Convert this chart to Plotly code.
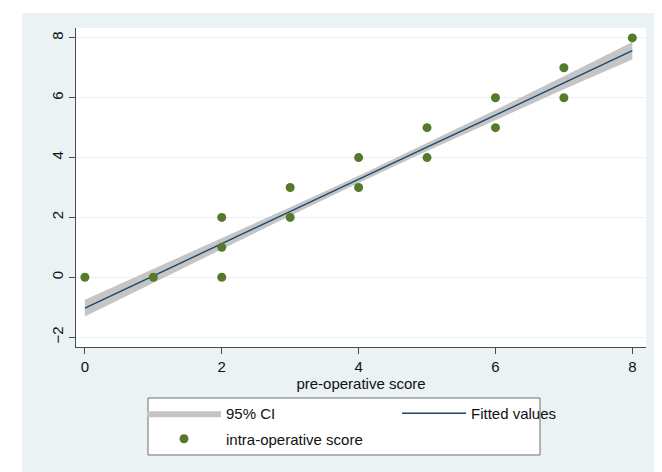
import plotly.graph_objects as go

# Observed data (pre-operative vs intra-operative score)
pre_score = [0, 1, 2, 2, 2, 3, 3, 4, 4, 5, 5, 6, 6, 7, 7, 8]
intra_score = [0, 0, 0, 1, 2, 2, 3, 3, 4, 4, 5, 5, 6, 6, 7, 8]

# Fitted values and 95% CI
fit_x = [0, 1, 2, 3, 4, 5, 6, 7, 8]
fit_y = [-1.03, 0.05, 1.12, 2.20, 3.27, 4.35, 5.42, 6.50, 7.57]
ci_lower = [-1.31, -0.18, 0.94, 2.06, 3.15, 4.22, 5.25, 6.28, 7.28]
ci_upper = [-0.75, 0.28, 1.30, 2.34, 3.39, 4.48, 5.59, 6.72, 7.86]

x_ticks = [0, 2, 4, 6, 8]
y_ticks = [-2, 0, 2, 4, 6, 8]

BG = "#eaf2f3"
FONT = "Liberation Sans, Arial, Helvetica, sans-serif"
AX = "#4a4a4a"
FS = 15

fig = go.Figure()
fig.add_trace(go.Scatter(x=fit_x, y=ci_upper, mode="lines", line=dict(width=0, color="#c5c5c5"),
                         showlegend=False, hoverinfo="skip", legendgroup="ci"))
fig.add_trace(go.Scatter(x=fit_x, y=ci_lower, mode="lines", line=dict(width=0, color="#c5c5c5"),
                         fill="tonexty", fillcolor="#c5c5c5", name="95% CI",
                         legend="legend", legendgroup="ci"))
fig.add_trace(go.Scatter(x=fit_x, y=fit_y, mode="lines", line=dict(width=1.4, color="#1a476f"),
                         name="Fitted values", legend="legend2"))
fig.add_trace(go.Scatter(x=pre_score, y=intra_score, mode="markers",
                         marker=dict(size=9, color="#557a2a"),
                         name="intra-operative score", legend="legend", legendgroup="pts"))

# Page body adds an 8px offset; figure coordinates compensate for it
OFF = 8
W, H = 662, 472
L, R, T, B = 76 - OFF, 24, 28 - OFF, 133
pw, ph = W - L - R, H - T - B

def px(xs):
    return (xs - OFF - L) / pw

def py(ys):
    return (H - B - (ys - OFF)) / ph

fig.update_layout(
    width=W, height=H,
    margin=dict(l=L, r=R, t=T, b=B),
    paper_bgcolor=BG, plot_bgcolor="white",
    font=dict(family=FONT, size=FS, color="#111"),
    xaxis=dict(range=[-0.13, 8.2], tickvals=x_ticks, showgrid=False, zeroline=False,
               showline=True, linecolor=AX, linewidth=1, ticks="outside", ticklen=6,
               tickcolor=AX, tickfont=dict(size=FS),
               title=dict(text="pre-operative score", font=dict(size=FS), standoff=3)),
    yaxis=dict(range=[-2.33, 8.33], tickvals=y_ticks, showgrid=True, gridcolor=BG, gridwidth=1,
               zeroline=False, showline=True, linecolor=AX, linewidth=1, ticks="outside",
               ticklen=6, tickcolor=AX, tickangle=-90, tickfont=dict(size=FS)),
    legend=dict(x=px(142), y=py(397), xanchor="left", yanchor="top", bgcolor="rgba(0,0,0,0)",
                borderwidth=0, traceorder="grouped", tracegroupgap=3, itemwidth=74,
                font=dict(size=FS)),
    legend2=dict(x=px(397), y=py(397), xanchor="left", yanchor="top", bgcolor="rgba(0,0,0,0)",
                 borderwidth=0, itemwidth=64, font=dict(size=FS)),
    shapes=[
        dict(type="rect", xref="paper", yref="paper", x0=px(148), x1=px(540), y0=py(455), y1=py(398),
             fillcolor="white", line=dict(color="#6e6e6e", width=1), layer="below"),
        dict(type="rect", xref="paper", yref="paper", x0=px(0), x1=px(22), y0=py(480), y1=py(0),
             fillcolor="white", line=dict(width=0), layer="below"),
        dict(type="rect", xref="paper", yref="paper", x0=px(0), x1=px(670), y0=py(13), y1=py(0),
             fillcolor="white", line=dict(width=0), layer="below"),
    ],
)

fig.write_html("out.html")
